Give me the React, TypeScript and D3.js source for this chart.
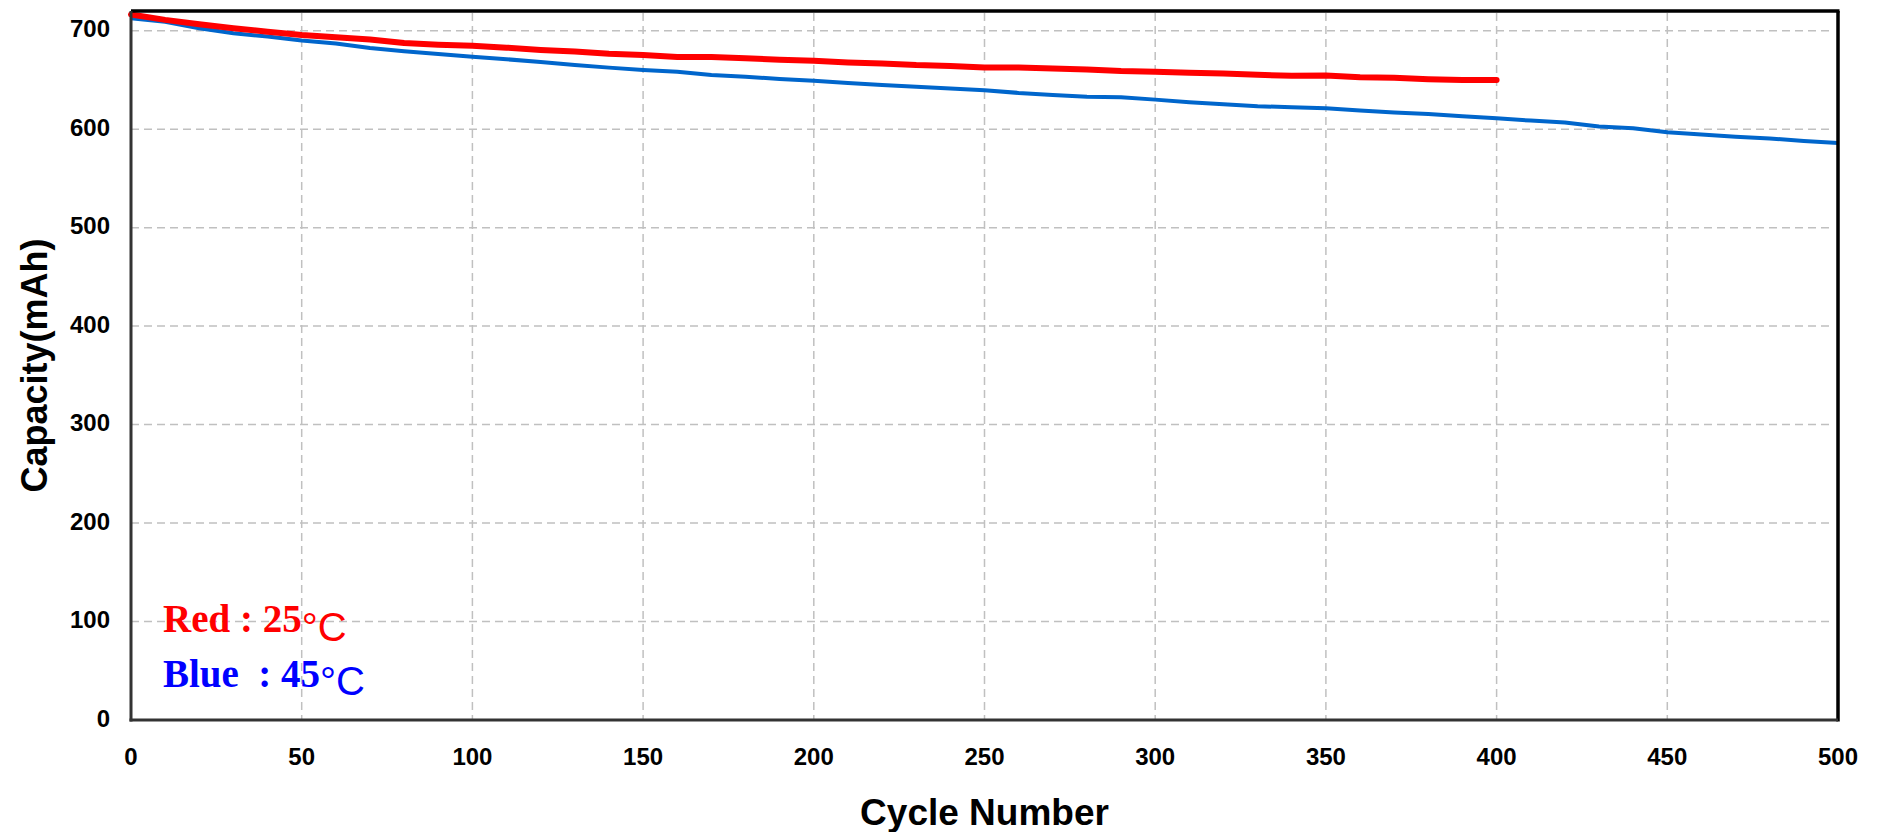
import React from "react";
import * as d3 from "d3";

const redCycles = d3.range(0, 401, 10);
const redCapacity = [
  716.5, 711, 706.5, 702.5, 699, 695.6, 693.3, 691, 687.5, 685.8,
  684.8, 682.8, 680.5, 678.8, 676.5, 675.3, 673.3, 673.2, 672, 670.4,
  669.5, 667.8, 666.8, 665.1, 664.2, 662.7, 662.7, 661.5, 660.7, 659,
  658.4, 657.4, 656.5, 655.2, 654.2, 654.5, 652.8, 652.3, 650.8, 650,
  649.9,
];

const blueCycles = d3.range(0, 501, 10);
const blueCapacity = [
  712.6, 709, 702.5, 697.5, 694, 690, 687, 682.5, 679.2, 676.3,
  673.6, 671, 668.2, 665.1, 662.5, 660.1, 658.2, 655, 653.2, 651,
  649.2, 647, 644.8, 643, 641.3, 639.6, 636.8, 634.8, 633, 632.5,
  630, 627.4, 625.4, 623.3, 622.3, 621.2, 619, 617, 615.5, 613,
  611, 608.7, 606.7, 602.7, 601, 596.8, 594.6, 592.4, 590.6, 588,
  586,
];

const xTicks = [0, 50, 100, 150, 200, 250, 300, 350, 400, 450, 500];
const yTicks = [0, 100, 200, 300, 400, 500, 600, 700];

const xTitle = "Cycle Number";
const yTitle = "Capacity(mAh)";
const legendRed = { label: "Red : 25", deg: "\u00B0", unit: "C" };
const legendBlue = { label: "Blue  : 45", deg: "\u00B0", unit: "C" };

const W = 1879;
const H = 832;
const M = { left: 131, right: 1838, top: 11, bottom: 720 };

export default function App() {
  const x = d3.scaleLinear().domain([0, 500]).range([M.left, M.right]);
  const y = d3.scaleLinear().domain([0, 720]).range([M.bottom, M.top]);

  const line = d3
    .line<[number, number]>()
    .x((d) => x(d[0]))
    .y((d) => y(d[1]));

  const redPts: [number, number][] = redCycles.map((c, i) => [c, redCapacity[i]]);
  const bluePts: [number, number][] = blueCycles.map((c, i) => [c, blueCapacity[i]]);

  const sans = "'Liberation Sans', Arial, sans-serif";
  const serif = "'Liberation Serif', 'Times New Roman', serif";

  return (
    <svg
      width={W}
      height={H}
      style={{ position: "absolute", left: 0, top: 0, background: "#fff" }}
    >
      {/* grid */}
      {yTicks
        .filter((t) => t > 0)
        .map((t) => (
          <line
            key={"gy" + t}
            x1={M.left}
            x2={M.right - 8}
            y1={y(t)}
            y2={y(t)}
            stroke="#c0c0c0"
            strokeWidth={1.5}
            strokeDasharray="8,5"
          />
        ))}
      {xTicks
        .filter((t) => t > 0 && t < 500)
        .map((t) => (
          <line
            key={"gx" + t}
            x1={x(t)}
            x2={x(t)}
            y1={M.top + 2}
            y2={M.bottom}
            stroke="#c0c0c0"
            strokeWidth={1.5}
            strokeDasharray="8,5"
          />
        ))}

      {/* series */}
      <path
        d={line(bluePts) || ""}
        fill="none"
        stroke="#0066CC"
        strokeWidth={4}
        strokeLinejoin="round"
      />
      <path
        d={line(redPts) || ""}
        fill="none"
        stroke="#FF0000"
        strokeWidth={6}
        strokeLinejoin="round"
        strokeLinecap="round"
      />

      {/* frame */}
      <line x1={M.left} x2={M.right + 1.5} y1={M.top} y2={M.top} stroke="#000" strokeWidth={3.5} />
      <line x1={M.right} x2={M.right} y1={M.top} y2={M.bottom + 1.5} stroke="#000" strokeWidth={3.5} />
      <line x1={M.left} x2={M.left} y1={M.top} y2={M.bottom + 1.5} stroke="#333" strokeWidth={3} />
      <line x1={M.left - 1.5} x2={M.right} y1={M.bottom} y2={M.bottom} stroke="#333" strokeWidth={3} />

      {/* y tick labels */}
      {yTicks.map((t) => (
        <text
          key={"ty" + t}
          x={110}
          y={y(t) + 6.5}
          textAnchor="end"
          fontFamily={sans}
          fontWeight="bold"
          fontSize={24}
          fill="#000"
        >
          {t}
        </text>
      ))}

      {/* x tick labels */}
      {xTicks.map((t) => (
        <text
          key={"tx" + t}
          x={x(t)}
          y={765}
          textAnchor="middle"
          fontFamily={sans}
          fontWeight="bold"
          fontSize={24}
          fill="#000"
        >
          {t}
        </text>
      ))}

      {/* axis titles */}
      <text
        x={(M.left + M.right) / 2}
        y={825}
        textAnchor="middle"
        fontFamily={sans}
        fontWeight="bold"
        fontSize={37}
        fill="#000"
      >
        {xTitle}
      </text>
      <text
        transform={`translate(47, ${(M.top + M.bottom) / 2}) rotate(-90)`}
        textAnchor="middle"
        fontFamily={sans}
        fontWeight="bold"
        fontSize={36}
        fill="#000"
      >
        {yTitle}
      </text>

      {/* legend */}
      <text x={163} y={632} fill="#FF0000" style={{ whiteSpace: "pre" }}>
        <tspan fontFamily={serif} fontWeight="bold" fontSize={39}>
          {legendRed.label}
        </tspan>
        <tspan fontFamily={sans} fontSize={40} dy={9}>
          {legendRed.deg}
        </tspan>
        <tspan fontFamily={sans} fontSize={40}>
          {legendRed.unit}
        </tspan>
      </text>
      <text x={163} y={687} fill="#0000FF" style={{ whiteSpace: "pre" }}>
        <tspan fontFamily={serif} fontWeight="bold" fontSize={39}>
          {legendBlue.label}
        </tspan>
        <tspan fontFamily={sans} fontSize={40} dy={8}>
          {legendBlue.deg}
        </tspan>
        <tspan fontFamily={sans} fontSize={40}>
          {legendBlue.unit}
        </tspan>
      </text>
    </svg>
  );
}
